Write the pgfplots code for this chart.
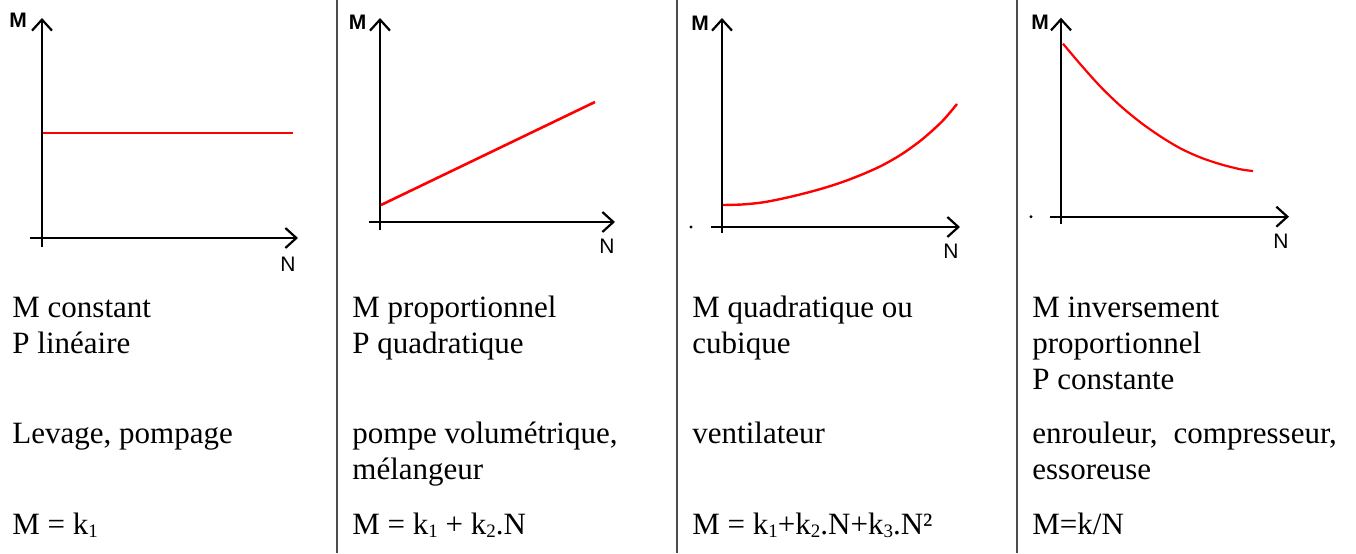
\documentclass[border=0pt]{standalone}
\usepackage{fontspec}
\setmainfont{Liberation Serif}
\newfontfamily\tnr{Liberation Serif}
\newfontfamily\axfont{Liberation Sans}
\usepackage{pgfplots}
\pgfplotsset{compat=1.18}
\usetikzlibrary{arrows.meta}
\newcommand{\sub}[1]{\raisebox{-1.8pt}{\fontsize{9.5}{9.5}\selectfont #1}}
\pgfplotsset{
  panel/.style={
    x=0.5pt, y=0.5pt, anchor=origin,
    axis lines=middle,
    axis line style={line width=1pt, black, -{Straight Barb[length=5.5pt,width=10pt,line width=1.1pt]}},
    xtick=\empty, ytick=\empty,
    clip=false,
  },
}
\begin{document}
\begin{tikzpicture}[x=0.5pt,y=0.5pt]
\useasboundingbox (0,0) rectangle (1356,553);
% separators
\foreach \xx in {337,677,1017} \draw[black!70, line width=0.6pt] (\xx,0) -- (\xx,553);

% Panel 1: constant
\begin{axis}[panel, at={(42,315)}, xmin=-12, xmax=256, ymin=-9, ymax=220]
\addplot[red, line width=1pt] coordinates {(1,105) (251,105)};
\end{axis}
% Panel 2: proportional
\begin{axis}[panel, at={(380,331)}, xmin=-11, xmax=235, ymin=-8, ymax=204]
\addplot[red, line width=1.3pt] coordinates {(1,17) (215,120)};
\end{axis}
% Panel 3: quadratic
\begin{axis}[panel, at={(722,326)}, xmin=-11, xmax=238, ymin=-6, ymax=209]
\addplot[red, line width=1.2pt, smooth] coordinates {(1,22) (20,22.5) (40,24.5) (60,28.3) (80,33) (100,38.4) (120,44.8) (140,52.5) (160,61.5) (180,73) (200,87.5) (220,105.5) (235,123)};
\addplot[black, only marks, mark=*, mark size=0.5pt] coordinates {(-31,0)};
\end{axis}
% Panel 4: inverse
\begin{axis}[panel, at={(1061,336.3)}, xmin=-11, xmax=228, ymin=-7, ymax=199]
\addplot[red, line width=1.1pt, smooth] coordinates {(2,173) (20,151.7) (40,129.5) (60,110.3) (80,93.9) (100,79.9) (120,68) (140,59) (160,52.3) (180,47.3) (192,45.7)};
\addplot[black, only marks, mark=*, mark size=0.5pt] coordinates {(-30,0)};
\end{axis}

% axis letters
\begin{scope}[every node/.style={inner sep=0pt, font=\axfont\fontsize{10.5}{11}\selectfont}]
\node at (18,533) {\bfseries M};
\node at (357.5,531) {\bfseries M};
\node at (700,530) {\bfseries M};
\node at (1040,531) {\bfseries M};
\node at (288,289) {N};
\node at (607,307) {N};
\node at (951,302) {N};
\node at (1281,312) {N};
\end{scope}

% texts
\begin{scope}[every node/.style={anchor=base west, inner sep=0pt, font=\tnr\fontsize{15.5}{18}\selectfont}]
\node at (12,236) {M constant};
\node at (12,200) {P linéaire};
\node at (12,110) {Levage, pompage};
\node at (12,19) {M = k\sub{1}};

\node at (352,236) {M proportionnel};
\node at (352,200) {P quadratique};
\node at (352,110) {pompe volumétrique,};
\node at (352,74) {mélangeur};
\node at (352,19) {M = k\sub{1} + k\sub{2}.N};

\node at (692,236) {M quadratique ou};
\node at (692,200) {cubique};
\node at (692,110) {ventilateur};
\node at (692,19) {M = k\sub{1}+k\sub{2}.N+k\sub{3}.N²};

\node at (1032,236) {M inversement};
\node at (1032,200) {proportionnel};
\node at (1032,164) {P constante};
\node at (1032,110) {enrouleur,\hspace{8pt}compresseur,};
\node at (1032,74) {essoreuse};
\node at (1032,19) {M=k/N};
\end{scope}
\end{tikzpicture}
\end{document}
